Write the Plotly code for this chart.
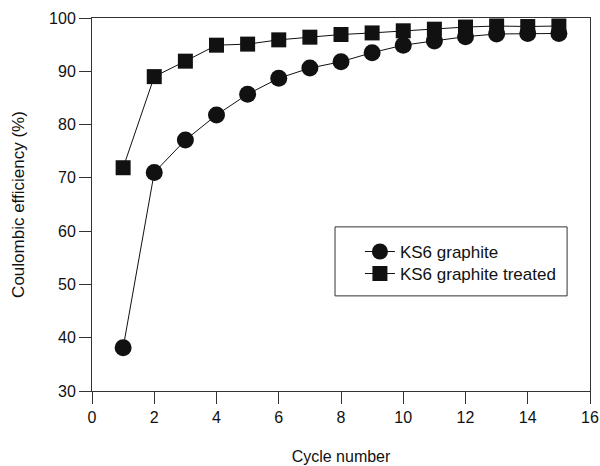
import plotly.graph_objects as go

cycles = list(range(1, 16))
ks6 = [38.1, 71.0, 77.1, 81.8, 85.7, 88.7, 90.6, 91.8, 93.5, 94.9, 95.7, 96.5, 97.0, 97.1, 97.1]
ks6_treated = [71.9, 89.0, 91.9, 94.9, 95.1, 95.9, 96.4, 96.9, 97.2, 97.6, 97.9, 98.3, 98.5, 98.4, 98.5]

FONT = "Liberation Sans, Arial, sans-serif"

fig = go.Figure()
fig.add_trace(go.Scatter(
    x=cycles, y=ks6, name="KS6 graphite", mode="lines+markers",
    line=dict(color="#111", width=1),
    marker=dict(symbol="circle", size=17, color="#111"),
    legend="legend",
))
fig.add_trace(go.Scatter(
    x=cycles, y=ks6_treated, name="KS6 graphite treated", mode="lines+markers",
    line=dict(color="#111", width=1),
    marker=dict(symbol="square", size=15, color="#111"),
    legend="legend2",
))

axis_common = dict(
    showgrid=False, zeroline=False, showline=True, linecolor="#333", linewidth=1,
    mirror=True, ticks="outside", tickcolor="#333", ticklen=12, tickwidth=1,
    tickfont=dict(family=FONT, size=16, color="#111"), automargin=False,
)
fig.update_xaxes(range=[0, 16], dtick=2, tick0=0,
                 title=dict(text="Cycle number", standoff=25,
                            font=dict(family=FONT, size=16, color="#111")),
                 **axis_common)
fig.update_yaxes(range=[30, 100], dtick=10, tick0=30,
                 title=dict(text="Coulombic efficiency (%)", standoff=20,
                            font=dict(family=FONT, size=17, color="#111")),
                 **axis_common)

# legend frame (paper coords relative to plot area)
fig.add_shape(type="rect", xref="paper", yref="paper",
              x0=0.488, x1=0.954, y0=0.255, y1=0.44,
              line=dict(color="#333", width=1), fillcolor="white", layer="below")

leg_common = dict(xanchor="left", yanchor="top", borderwidth=0,
                  bgcolor="rgba(0,0,0,0)", font=dict(size=17, family=FONT))

fig.update_layout(
    width=600, height=466,
    margin=dict(l=92, r=10, t=18, b=75),
    paper_bgcolor="white", plot_bgcolor="white",
    font=dict(family=FONT, color="#111"),
    legend=dict(x=0.538, y=0.421, **leg_common),
    legend2=dict(x=0.538, y=0.362, **leg_common),
    showlegend=True,
)

fig.write_html("out.html")
